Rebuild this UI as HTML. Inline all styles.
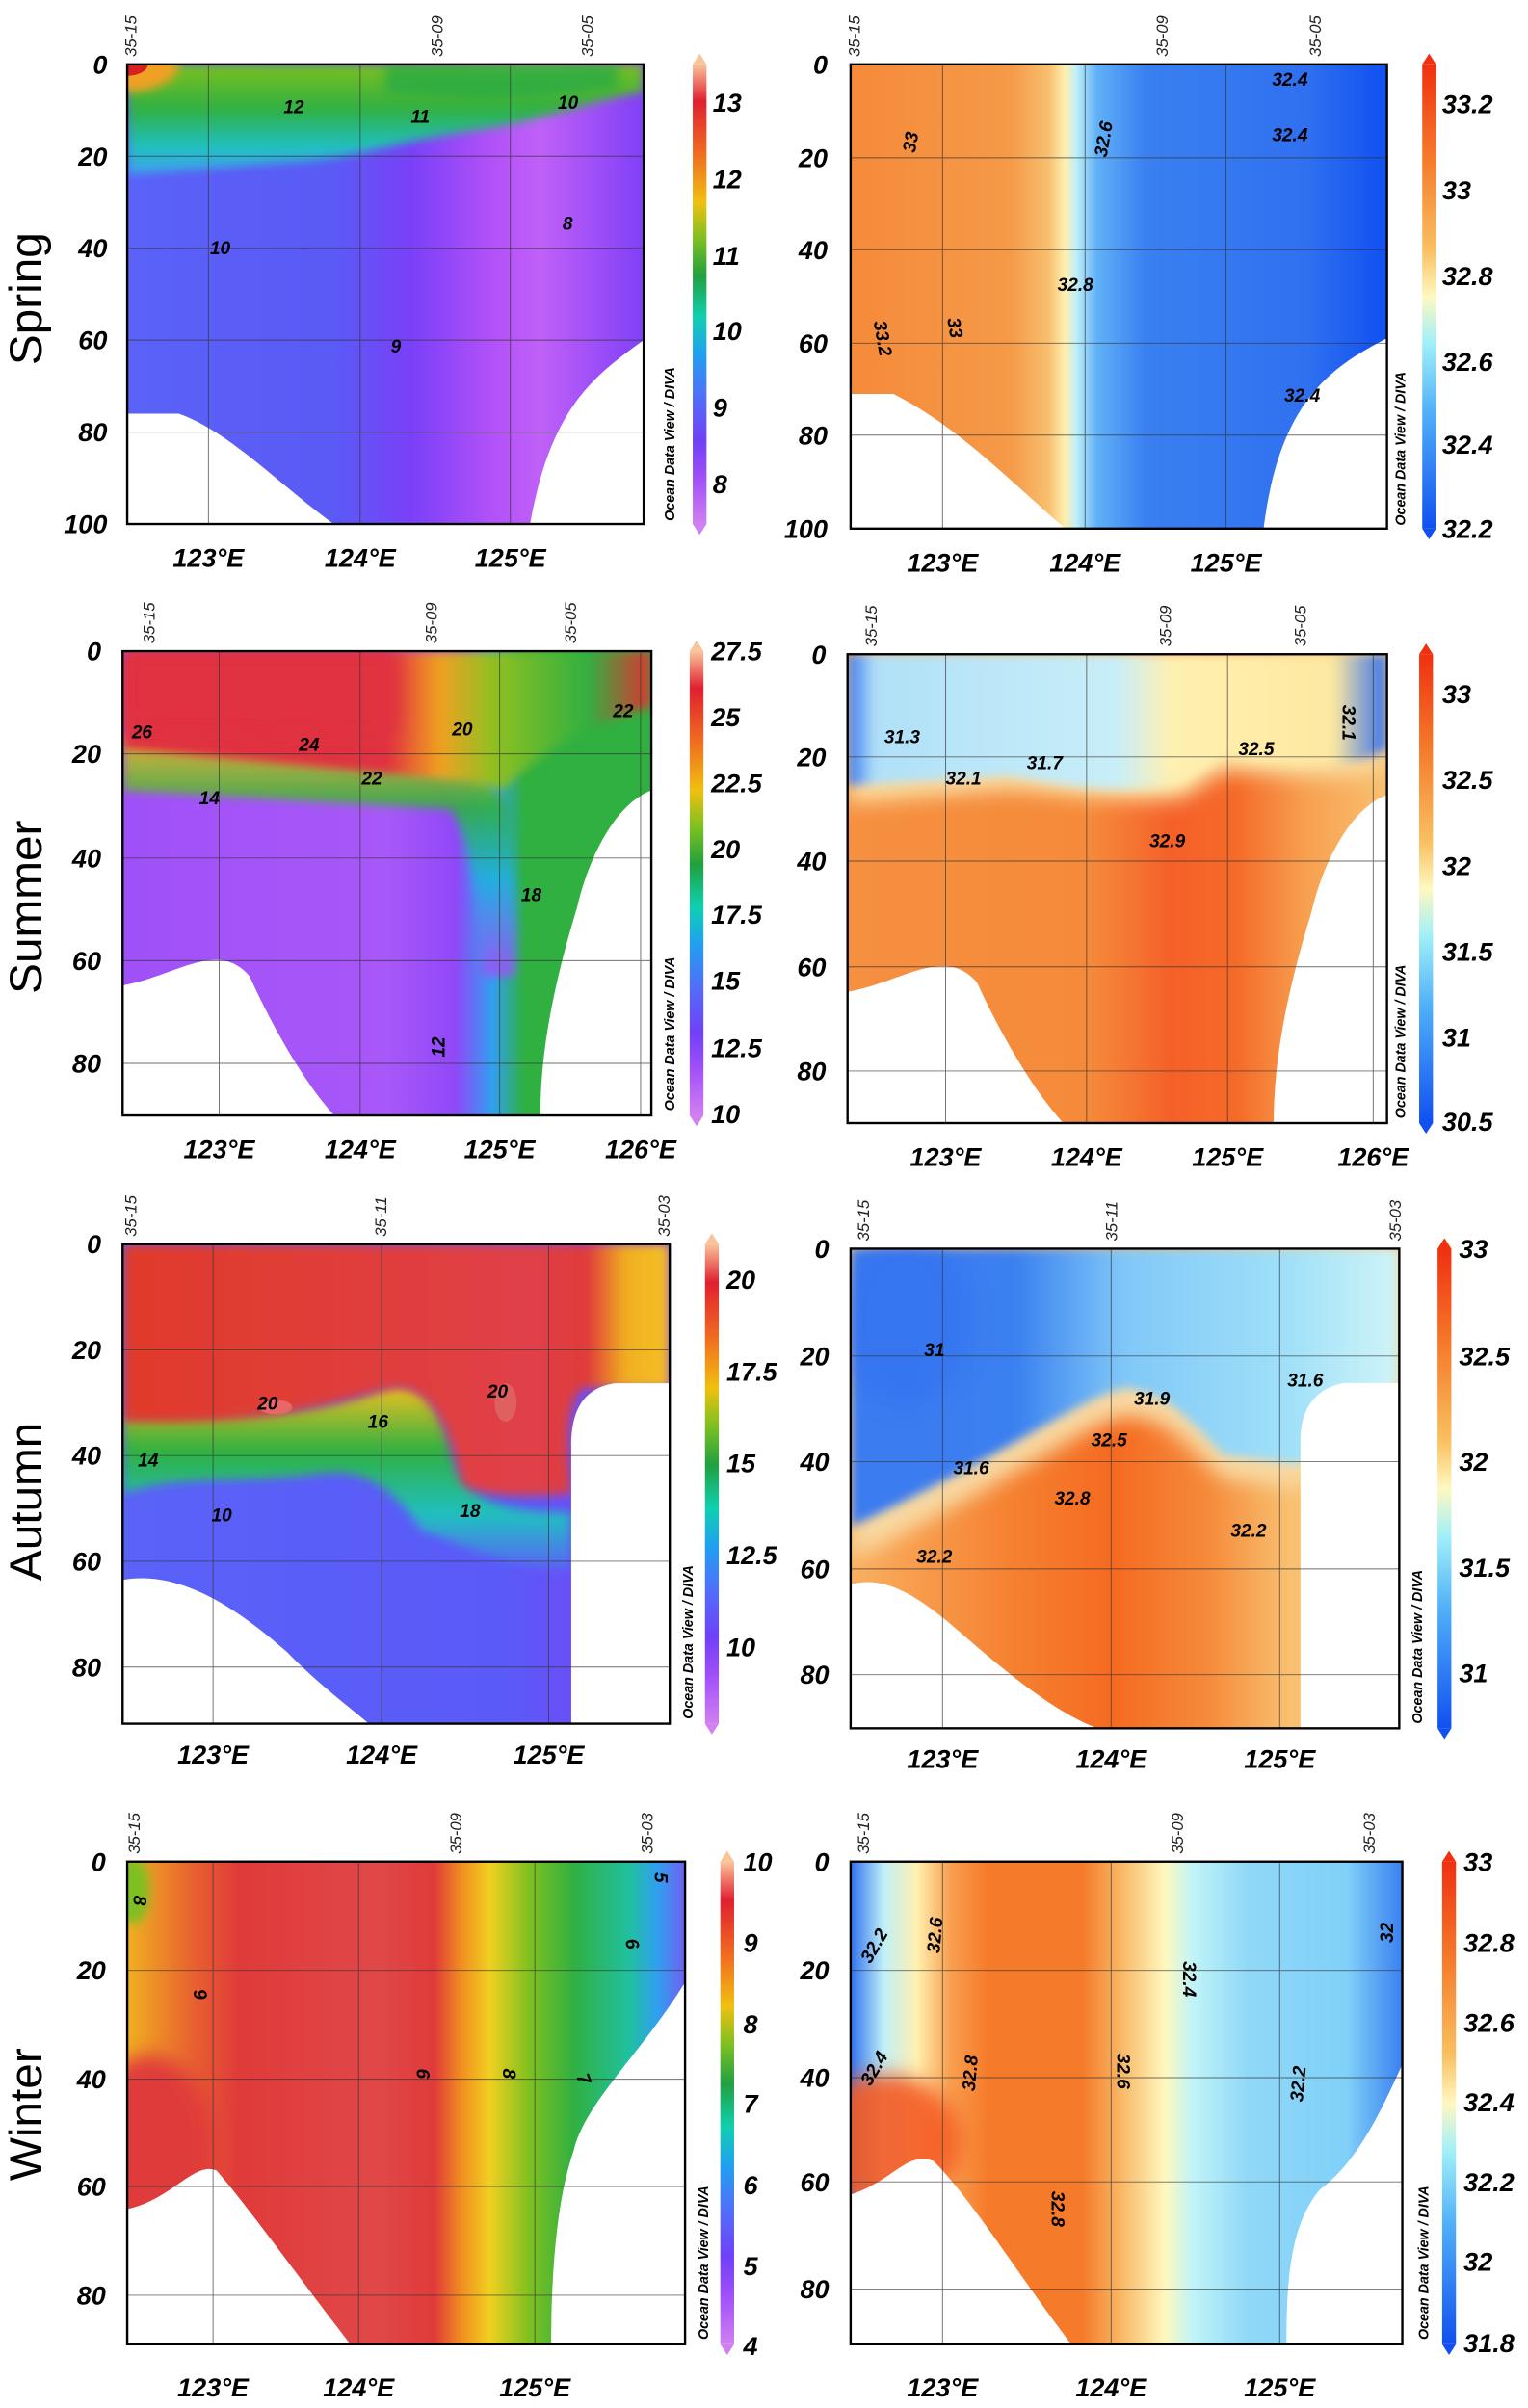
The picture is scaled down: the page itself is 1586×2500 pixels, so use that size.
<!DOCTYPE html>
<html><head><meta charset="utf-8"><style>
html,body{margin:0;padding:0;background:#fff;width:1586px;height:2500px;overflow:hidden}
svg{display:block}
.t{font-family:"Liberation Sans",sans-serif;font-weight:bold;font-style:italic;font-size:17px;fill:#000}
.s{font-family:"Liberation Sans",sans-serif;font-style:italic;font-size:10.5px;fill:#222}
.o{font-family:"Liberation Sans",sans-serif;font-weight:bold;font-style:italic;font-size:9px;fill:#000}
.z{font-family:"Liberation Sans",sans-serif;font-size:30px;fill:#000}
.c{font-family:"Liberation Sans",sans-serif;font-weight:bold;font-style:italic;font-size:12px;fill:#000}
.g{stroke:#333;stroke-width:0.6;opacity:.7}
</style></head><body>
<svg width="1586" height="2500" viewBox="0 0 997 1571.6" xmlns="http://www.w3.org/2000/svg">
<defs>
<filter id="bl" x="-20%" y="-20%" width="140%" height="140%"><feGaussianBlur stdDeviation="2"/></filter>
<filter id="bl2" x="-20%" y="-20%" width="140%" height="140%"><feGaussianBlur stdDeviation="1"/></filter>
<linearGradient id="ct" x1="0" y1="0" x2="0" y2="1">
<stop offset="0" stop-color="#f9c49a"/><stop offset=".08" stop-color="#e02030"/><stop offset=".2" stop-color="#f07020"/><stop offset=".3" stop-color="#f0c010"/><stop offset=".38" stop-color="#7cc020"/><stop offset=".46" stop-color="#20a040"/><stop offset=".55" stop-color="#10d0b0"/><stop offset=".63" stop-color="#20a0f0"/><stop offset=".72" stop-color="#5070f8"/><stop offset=".82" stop-color="#7040f8"/><stop offset=".9" stop-color="#a050f8"/><stop offset="1" stop-color="#d080f0"/></linearGradient>
<linearGradient id="cs" x1="0" y1="0" x2="0" y2="1">
<stop offset="0" stop-color="#f03010"/><stop offset=".2" stop-color="#f57a2a"/><stop offset=".4" stop-color="#f9c060"/><stop offset=".5" stop-color="#fff8c0"/><stop offset=".6" stop-color="#a0f0f8"/><stop offset=".75" stop-color="#50b0f8"/><stop offset="1" stop-color="#1050f0"/></linearGradient>
<linearGradient id="g1"><stop offset="0" stop-color="#5a62f8"/><stop offset=".4" stop-color="#5a5af5"/><stop offset=".55" stop-color="#7a40f8"/><stop offset=".7" stop-color="#b050f8"/><stop offset=".8" stop-color="#c060f8"/><stop offset=".9" stop-color="#a050f8"/><stop offset="1" stop-color="#8040f5"/></linearGradient>
<linearGradient id="g1t" x1="0" y1="0" x2="0" y2="1"><stop offset="0" stop-color="#7cc020"/><stop offset=".4" stop-color="#30b040"/><stop offset=".75" stop-color="#20c0c0"/><stop offset="1" stop-color="#40a0f0"/></linearGradient>
<linearGradient id="g2"><stop offset="0" stop-color="#f58a3a"/><stop offset=".3" stop-color="#f59a48"/><stop offset=".37" stop-color="#f8c070"/><stop offset=".4" stop-color="#fff0b0"/><stop offset=".42" stop-color="#c0f0f8"/><stop offset=".46" stop-color="#60b0f8"/><stop offset=".55" stop-color="#3a80f0"/><stop offset=".85" stop-color="#3070f0"/><stop offset="1" stop-color="#1050f0"/></linearGradient>
<linearGradient id="g3"><stop offset="0" stop-color="#a050f8"/><stop offset=".5" stop-color="#a858f8"/><stop offset=".63" stop-color="#9048f8"/><stop offset=".7" stop-color="#30a0f0"/><stop offset=".76" stop-color="#30b040"/><stop offset="1" stop-color="#30b040"/></linearGradient>
<linearGradient id="g3t"><stop offset="0" stop-color="#e03040"/><stop offset=".5" stop-color="#e03040"/><stop offset=".6" stop-color="#f0a020"/><stop offset=".7" stop-color="#90c020"/><stop offset=".88" stop-color="#30b040"/><stop offset="1" stop-color="#e03030"/></linearGradient>
<linearGradient id="g3b" x1="0" y1="0" x2="0" y2="1"><stop offset="0" stop-color="#f0c020"/><stop offset=".3" stop-color="#30b040"/><stop offset=".6" stop-color="#20b0e0"/><stop offset="1" stop-color="#a050f8"/></linearGradient>
<linearGradient id="g4"><stop offset="0" stop-color="#f59040"/><stop offset=".45" stop-color="#f58a3a"/><stop offset=".6" stop-color="#f56028"/><stop offset=".72" stop-color="#f56a28"/><stop offset=".85" stop-color="#f7a050"/><stop offset="1" stop-color="#f8c070"/></linearGradient>
<linearGradient id="g4t"><stop offset="0" stop-color="#3070f0"/><stop offset=".05" stop-color="#b0e0f8"/><stop offset=".5" stop-color="#c8eef8"/><stop offset=".6" stop-color="#fff0b0"/><stop offset=".9" stop-color="#fde8a0"/><stop offset="1" stop-color="#3070f0"/></linearGradient>
<linearGradient id="g5t"><stop offset="0" stop-color="#e03a2a"/><stop offset=".75" stop-color="#e04048"/><stop offset=".85" stop-color="#e03a3a"/><stop offset=".92" stop-color="#f0b020"/><stop offset="1" stop-color="#f5c020"/></linearGradient>
<linearGradient id="g5b" x1="0" y1="0" x2="0" y2="1"><stop offset="0" stop-color="#f0c020"/><stop offset=".35" stop-color="#30b040"/><stop offset=".7" stop-color="#20c0c0"/><stop offset="1" stop-color="#5a62f8"/></linearGradient>
<linearGradient id="g5"><stop offset="0" stop-color="#5a62f8"/><stop offset=".7" stop-color="#5a5af8"/><stop offset="1" stop-color="#8040f5"/></linearGradient>
<linearGradient id="g6t"><stop offset="0" stop-color="#3a7af0"/><stop offset=".3" stop-color="#3a80f0"/><stop offset=".5" stop-color="#80c8f8"/><stop offset=".8" stop-color="#a0e0f8"/><stop offset="1" stop-color="#d0f4f8"/></linearGradient>
<linearGradient id="g6"><stop offset="0" stop-color="#f9b060"/><stop offset=".3" stop-color="#f58030"/><stop offset=".48" stop-color="#f56a20"/><stop offset=".65" stop-color="#f58a3a"/><stop offset=".8" stop-color="#f8c070"/></linearGradient>
<linearGradient id="g7"><stop offset="0" stop-color="#f0b020"/><stop offset=".12" stop-color="#e86030"/><stop offset=".2" stop-color="#e03a3a"/><stop offset=".45" stop-color="#e04848"/><stop offset=".55" stop-color="#e03a3a"/><stop offset=".6" stop-color="#f09020"/><stop offset=".65" stop-color="#f0d020"/><stop offset=".72" stop-color="#80c020"/><stop offset=".8" stop-color="#30b040"/><stop offset=".9" stop-color="#20c0a0"/><stop offset=".95" stop-color="#30a0f0"/><stop offset="1" stop-color="#7060f0"/></linearGradient>
<linearGradient id="g8"><stop offset="0" stop-color="#3070f0"/><stop offset=".06" stop-color="#c0f0f8"/><stop offset=".12" stop-color="#fff0b0"/><stop offset=".18" stop-color="#f8a050"/><stop offset=".25" stop-color="#f57a2a"/><stop offset=".42" stop-color="#f57a2a"/><stop offset=".5" stop-color="#f8c070"/><stop offset=".57" stop-color="#fff8c0"/><stop offset=".62" stop-color="#c0f4f8"/><stop offset=".72" stop-color="#90d8f8"/><stop offset=".9" stop-color="#80d0f8"/><stop offset="1" stop-color="#3a80f0"/></linearGradient>
</defs>

<text class="z" transform="translate(27,195) rotate(-90)" text-anchor="middle">Spring</text>
<text class="z" transform="translate(27,592) rotate(-90)" text-anchor="middle">Summer</text>
<text class="z" transform="translate(27,980) rotate(-90)" text-anchor="middle">Autumn</text>
<text class="z" transform="translate(27,1380) rotate(-90)" text-anchor="middle">Winter</text>

<!-- P1 Spring T -->
<svg x="83" y="42" width="337" height="300" viewBox="0 0 100 100" preserveAspectRatio="none">
<rect width="100" height="100" fill="url(#g1)"/>
<path d="M0,0 H100 V6 C90,8 80,12 70,14 C55,16 45,20 35,21 L0,24Z" fill="url(#g1t)" filter="url(#bl2)"/>
<path d="M50,0 H95 V5 C80,7 70,8 50,6Z" fill="#20a848" opacity=".7" filter="url(#bl2)"/>
<ellipse cx="0" cy="0" rx="10" ry="6" fill="#f0a020" filter="url(#bl2)"/><ellipse cx="0" cy="0" rx="4" ry="2.5" fill="#d82020"/>
<path d="M0,76 L10,76 C20,80 30,92 40,100 L0,100Z M100,60 C90,68 82,75 78,100 L100,100Z" fill="#fff"/>
</svg>
<g class="g"><line x1="136" y1="42" x2="136" y2="342"/><line x1="235" y1="42" x2="235" y2="342"/><line x1="333" y1="42" x2="333" y2="342"/><line x1="83" y1="102" x2="420" y2="102"/><line x1="83" y1="162" x2="420" y2="162"/><line x1="83" y1="222" x2="420" y2="222"/><line x1="83" y1="282" x2="420" y2="282"/></g>
<rect x="83" y="42" width="337" height="300" fill="none" stroke="#000" stroke-width="1.5"/>
<text class="c" x="185" y="74">12</text><text class="c" x="268" y="80">11</text><text class="c" x="364" y="71">10</text><text class="c" x="137" y="166">10</text><text class="c" x="367" y="150">8</text><text class="c" x="255" y="230">9</text>
<g class="t" text-anchor="end"><text x="70" y="48">0</text><text x="70" y="108">20</text><text x="70" y="168">40</text><text x="70" y="228">60</text><text x="70" y="288">80</text><text x="70" y="348">100</text></g>
<g class="t" text-anchor="middle"><text x="136" y="370">123°E</text><text x="235" y="370">124°E</text><text x="333" y="370">125°E</text></g>
<g class="s"><text transform="translate(89,37) rotate(-90)">35-15</text><text transform="translate(289,37) rotate(-90)">35-09</text><text transform="translate(387,37) rotate(-90)">35-05</text></g>
<text class="o" transform="translate(440,340) rotate(-90)">Ocean Data View / DIVA</text>
<rect x="452" y="42" width="9" height="300" fill="url(#ct)"/><path d="M452,42 L456.5,35 L461,42Z" fill="#f9c49a"/><path d="M452,342 L456.5,349 L461,342Z" fill="#d080f0"/>
<g class="t"><text x="465" y="73">13</text><text x="465" y="123">12</text><text x="465" y="173">11</text><text x="465" y="222">10</text><text x="465" y="272">9</text><text x="465" y="322">8</text></g>

<!-- P2 Spring S -->
<svg x="555" y="42" width="350" height="303" viewBox="0 0 100 100" preserveAspectRatio="none">
<rect width="100" height="100" fill="url(#g2)"/>
<path d="M0,71 L8,71 C20,78 30,90 40,100 L0,100Z M100,59 C90,65 80,72 77,100 L100,100Z" fill="#fff"/>
</svg>
<g class="g"><line x1="615" y1="42" x2="615" y2="345"/><line x1="708" y1="42" x2="708" y2="345"/><line x1="800" y1="42" x2="800" y2="345"/><line x1="555" y1="103" x2="905" y2="103"/><line x1="555" y1="163" x2="905" y2="163"/><line x1="555" y1="224" x2="905" y2="224"/><line x1="555" y1="284" x2="905" y2="284"/></g>
<rect x="555" y="42" width="350" height="303" fill="none" stroke="#000" stroke-width="1.5"/>
<text class="c" x="830" y="56">32.4</text><text class="c" x="830" y="92">32.4</text><text class="c" x="690" y="190">32.8</text><text class="c" x="838" y="262">32.4</text><text class="c" transform="translate(597,100) rotate(-80)">33</text><text class="c" transform="translate(570,210) rotate(80)">33.2</text><text class="c" transform="translate(618,208) rotate(80)">33</text><text class="c" transform="translate(722,103) rotate(-80)">32.6</text>
<g class="t" text-anchor="end"><text x="540" y="48">0</text><text x="540" y="109">20</text><text x="540" y="169">40</text><text x="540" y="230">60</text><text x="540" y="290">80</text><text x="540" y="351">100</text></g>
<g class="t" text-anchor="middle"><text x="615" y="373">123°E</text><text x="708" y="373">124°E</text><text x="800" y="373">125°E</text></g>
<g class="s"><text transform="translate(561,37) rotate(-90)">35-15</text><text transform="translate(762,37) rotate(-90)">35-09</text><text transform="translate(862,37) rotate(-90)">35-05</text></g>
<text class="o" transform="translate(917,343) rotate(-90)">Ocean Data View / DIVA</text>
<rect x="928" y="42" width="9" height="303" fill="url(#cs)"/><path d="M928,42 L932.5,35 L937,42Z" fill="#f03010"/><path d="M928,345 L932.5,352 L937,345Z" fill="#1050f0"/>
<g class="t"><text x="941" y="74">33.2</text><text x="941" y="130">33</text><text x="941" y="186">32.8</text><text x="941" y="242">32.6</text><text x="941" y="296">32.4</text><text x="941" y="351">32.2</text></g>

<!-- P3 Summer T -->
<svg x="80" y="425" width="345" height="303" viewBox="0 0 100 100" preserveAspectRatio="none">
<rect width="100" height="100" fill="url(#g3)"/>
<path d="M0,18 L66,24 L72,32 C74,40 75,60 74,70 L68,70 C67,55 66,40 62,34 L0,30Z" fill="url(#g3b)" opacity=".9" filter="url(#bl2)"/>
<path d="M0,0 H100 V12 C90,15 80,20 72,30 L66,28 L0,21Z" fill="url(#g3t)" filter="url(#bl2)"/>
<path d="M0,0 H52 V18 L0,17Z" fill="#e03040" filter="url(#bl)"/>
<path d="M0,72 C10,70 18,62 24,70 C30,85 36,95 40,100 L0,100Z M100,30 C93,33 88,45 86,55 C82,70 79,85 79,100 L100,100Z" fill="#fff"/>
</svg>
<g class="g"><line x1="143" y1="425" x2="143" y2="728"/><line x1="235" y1="425" x2="235" y2="728"/><line x1="326" y1="425" x2="326" y2="728"/><line x1="418" y1="425" x2="418" y2="728"/><line x1="80" y1="492" x2="425" y2="492"/><line x1="80" y1="560" x2="425" y2="560"/><line x1="80" y1="627" x2="425" y2="627"/><line x1="80" y1="694" x2="425" y2="694"/></g>
<rect x="80" y="425" width="345" height="303" fill="none" stroke="#000" stroke-width="1.5"/>
<text class="c" x="86" y="482">26</text><text class="c" x="195" y="490">24</text><text class="c" x="236" y="512">22</text><text class="c" x="130" y="525">14</text><text class="c" x="295" y="480">20</text><text class="c" x="340" y="588">18</text><text class="c" x="400" y="468">22</text><text class="c" transform="translate(290,690) rotate(-90)">12</text>
<g class="t" text-anchor="end"><text x="66" y="431">0</text><text x="66" y="498">20</text><text x="66" y="566">40</text><text x="66" y="633">60</text><text x="66" y="700">80</text></g>
<g class="t" text-anchor="middle"><text x="143" y="756">123°E</text><text x="235" y="756">124°E</text><text x="326" y="756">125°E</text><text x="418" y="756">126°E</text></g>
<g class="s"><text transform="translate(101,420) rotate(-90)">35-15</text><text transform="translate(285,420) rotate(-90)">35-09</text><text transform="translate(376,420) rotate(-90)">35-05</text></g>
<text class="o" transform="translate(440,725) rotate(-90)">Ocean Data View / DIVA</text>
<rect x="450" y="425" width="9" height="303" fill="url(#ct)"/><path d="M450,425 L454.5,418 L459,425Z" fill="#f9c49a"/><path d="M450,728 L454.5,735 L459,728Z" fill="#d080f0"/>
<g class="t"><text x="464" y="431">27.5</text><text x="464" y="474">25</text><text x="464" y="517">22.5</text><text x="464" y="560">20</text><text x="464" y="603">17.5</text><text x="464" y="646">15</text><text x="464" y="690">12.5</text><text x="464" y="733">10</text></g>

<!-- P4 Summer S -->
<svg x="553" y="427" width="352" height="306" viewBox="0 0 100 100" preserveAspectRatio="none">
<rect width="100" height="100" fill="url(#g4)"/>
<path d="M0,0 H100 V24 C95,28 80,26 70,25 L62,31 C50,32 40,30 30,29 L0,32Z" fill="#fbd89a" filter="url(#bl)"/>
<path d="M0,0 H100 V20 C95,25 80,24 70,22 L62,28 C50,30 40,28 30,26 L0,28Z" fill="url(#g4t)" filter="url(#bl2)"/>
<path d="M0,72 C10,70 18,62 24,70 C30,85 36,95 40,100 L0,100Z M100,30 C93,33 88,45 86,55 C82,70 79,85 79,100 L100,100Z" fill="#fff"/>
</svg>
<g class="g"><line x1="617" y1="427" x2="617" y2="733"/><line x1="709" y1="427" x2="709" y2="733"/><line x1="801" y1="427" x2="801" y2="733"/><line x1="896" y1="427" x2="896" y2="733"/><line x1="553" y1="494" x2="905" y2="494"/><line x1="553" y1="562" x2="905" y2="562"/><line x1="553" y1="631" x2="905" y2="631"/><line x1="553" y1="699" x2="905" y2="699"/></g>
<rect x="553" y="427" width="352" height="306" fill="none" stroke="#000" stroke-width="1.5"/>
<text class="c" x="577" y="485">31.3</text><text class="c" x="670" y="502">31.7</text><text class="c" x="617" y="512">32.1</text><text class="c" x="808" y="493">32.5</text><text class="c" x="750" y="553">32.9</text><text class="c" transform="translate(876,460) rotate(90)">32.1</text>
<g class="t" text-anchor="end"><text x="539" y="433">0</text><text x="539" y="500">20</text><text x="539" y="568">40</text><text x="539" y="637">60</text><text x="539" y="705">80</text></g>
<g class="t" text-anchor="middle"><text x="617" y="761">123°E</text><text x="709" y="761">124°E</text><text x="801" y="761">125°E</text><text x="896" y="761">126°E</text></g>
<g class="s"><text transform="translate(572,422) rotate(-90)">35-15</text><text transform="translate(764,422) rotate(-90)">35-09</text><text transform="translate(852,422) rotate(-90)">35-05</text></g>
<text class="o" transform="translate(917,730) rotate(-90)">Ocean Data View / DIVA</text>
<rect x="926" y="427" width="9" height="306" fill="url(#cs)"/><path d="M926,427 L930.5,420 L935,427Z" fill="#f03010"/><path d="M926,733 L930.5,740 L935,733Z" fill="#1050f0"/>
<g class="t"><text x="941" y="459">33</text><text x="941" y="515">32.5</text><text x="941" y="571">32</text><text x="941" y="627">31.5</text><text x="941" y="683">31</text><text x="941" y="738">30.5</text></g>

<!-- P5 Autumn T -->
<svg x="80" y="812" width="357" height="313" viewBox="0 0 100 100" preserveAspectRatio="none">
<rect width="100" height="100" fill="url(#g5)"/>
<path d="M0,36 C15,34 30,38 48,30 C55,28 58,34 60,43 C62,54 70,56 82,56 V68 C70,68 62,62 55,60 C50,52 45,46 35,48 C20,50 10,48 0,52Z" fill="url(#g5b)" filter="url(#bl2)"/>
<path d="M0,0 H100 V30 L84,30 C80,35 82,48 82,52 C70,53 64,52 62,50 C60,40 57,30 50,30 C40,32 30,38 0,37Z" fill="url(#g5t)" filter="url(#bl2)"/>
<ellipse cx="28" cy="34" rx="3" ry="1.5" fill="#e86868"/><ellipse cx="70" cy="33" rx="2" ry="4" fill="#e06060"/>
<path d="M0,70 C10,68 20,75 30,85 C36,92 42,97 45,100 L0,100Z M82,100 V42 C82,35 84,30 90,29 H100 V100Z" fill="#fff"/>
</svg>
<g class="g"><line x1="139" y1="812" x2="139" y2="1125"/><line x1="249" y1="812" x2="249" y2="1125"/><line x1="358" y1="812" x2="358" y2="1125"/><line x1="80" y1="881" x2="437" y2="881"/><line x1="80" y1="950" x2="437" y2="950"/><line x1="80" y1="1019" x2="437" y2="1019"/><line x1="80" y1="1088" x2="437" y2="1088"/></g>
<rect x="80" y="812" width="357" height="313" fill="none" stroke="#000" stroke-width="1.5"/>
<text class="c" x="168" y="920">20</text><text class="c" x="240" y="932">16</text><text class="c" x="318" y="912">20</text><text class="c" x="90" y="957">14</text><text class="c" x="300" y="990">18</text><text class="c" x="138" y="993">10</text>
<g class="t" text-anchor="end"><text x="66" y="818">0</text><text x="66" y="887">20</text><text x="66" y="956">40</text><text x="66" y="1025">60</text><text x="66" y="1094">80</text></g>
<g class="t" text-anchor="middle"><text x="139" y="1151">123°E</text><text x="249" y="1151">124°E</text><text x="358" y="1151">125°E</text></g>
<g class="s"><text transform="translate(89,807) rotate(-90)">35-15</text><text transform="translate(252,807) rotate(-90)">35-11</text><text transform="translate(437,807) rotate(-90)">35-03</text></g>
<text class="o" transform="translate(452,1122) rotate(-90)">Ocean Data View / DIVA</text>
<rect x="460" y="812" width="9" height="313" fill="url(#ct)"/><path d="M460,812 L464.5,805 L469,812Z" fill="#f9c49a"/><path d="M460,1125 L464.5,1132 L469,1125Z" fill="#d080f0"/>
<g class="t"><text x="474" y="841">20</text><text x="474" y="901">17.5</text><text x="474" y="961">15</text><text x="474" y="1021">12.5</text><text x="474" y="1081">10</text></g>

<!-- P6 Autumn S -->
<svg x="555" y="815" width="358" height="313" viewBox="0 0 100 100" preserveAspectRatio="none">
<rect width="100" height="100" fill="url(#g6)"/>
<path d="M0,0 H100 V32 L82,50 L68,48 C62,42 58,35 50,35 C42,37 30,48 0,65Z" fill="#f8d8a0" filter="url(#bl)"/>
<path d="M0,0 H100 V28 L82,45 L68,43 C62,36 58,30 50,29 C42,31 30,42 0,58Z" fill="url(#g6t)" filter="url(#bl2)"/>
<ellipse cx="10" cy="15" rx="12" ry="18" fill="#3070f0" opacity=".5" filter="url(#bl)"/>
<path d="M0,70 C6,68 12,72 20,80 C30,90 38,97 45,100 L0,100Z M82,100 V40 C82,33 85,29 90,28 H100 V100Z" fill="#fff"/>
</svg>
<g class="g"><line x1="615" y1="815" x2="615" y2="1128"/><line x1="725" y1="815" x2="725" y2="1128"/><line x1="835" y1="815" x2="835" y2="1128"/><line x1="555" y1="885" x2="913" y2="885"/><line x1="555" y1="954" x2="913" y2="954"/><line x1="555" y1="1024" x2="913" y2="1024"/><line x1="555" y1="1093" x2="913" y2="1093"/></g>
<rect x="555" y="815" width="358" height="313" fill="none" stroke="#000" stroke-width="1.5"/>
<text class="c" x="603" y="885">31</text><text class="c" x="740" y="917">31.9</text><text class="c" x="840" y="905">31.6</text><text class="c" x="622" y="962">31.6</text><text class="c" x="712" y="944">32.5</text><text class="c" x="688" y="982">32.8</text><text class="c" x="803" y="1003">32.2</text><text class="c" x="598" y="1020">32.2</text>
<g class="t" text-anchor="end"><text x="541" y="821">0</text><text x="541" y="891">20</text><text x="541" y="960">40</text><text x="541" y="1030">60</text><text x="541" y="1099">80</text></g>
<g class="t" text-anchor="middle"><text x="615" y="1154">123°E</text><text x="725" y="1154">124°E</text><text x="835" y="1154">125°E</text></g>
<g class="s"><text transform="translate(567,810) rotate(-90)">35-15</text><text transform="translate(729,810) rotate(-90)">35-11</text><text transform="translate(914,810) rotate(-90)">35-03</text></g>
<text class="o" transform="translate(928,1125) rotate(-90)">Ocean Data View / DIVA</text>
<rect x="938" y="815" width="9" height="313" fill="url(#cs)"/><path d="M938,815 L942.5,808 L947,815Z" fill="#f03010"/><path d="M938,1128 L942.5,1135 L947,1128Z" fill="#1050f0"/>
<g class="t"><text x="952" y="821">33</text><text x="952" y="891">32.5</text><text x="952" y="960">32</text><text x="952" y="1029">31.5</text><text x="952" y="1098">31</text></g>

<!-- P7 Winter T -->
<svg x="83" y="1215" width="364" height="315" viewBox="0 0 100 100" preserveAspectRatio="none">
<rect width="100" height="100" fill="url(#g7)"/>
<ellipse cx="1" cy="6" rx="3" ry="7" fill="#7cc020" filter="url(#bl2)"/>
<ellipse cx="4" cy="60" rx="12" ry="20" fill="#e03a3a" filter="url(#bl)"/>
<path d="M0,72 C8,70 12,62 16,64 C22,72 30,85 40,100 L0,100Z M100,25 C92,40 82,50 80,60 C77,70 76,85 76,100 L100,100Z" fill="#fff"/>
</svg>
<g class="g"><line x1="139" y1="1215" x2="139" y2="1530"/><line x1="234" y1="1215" x2="234" y2="1530"/><line x1="349" y1="1215" x2="349" y2="1530"/><line x1="83" y1="1286" x2="447" y2="1286"/><line x1="83" y1="1357" x2="447" y2="1357"/><line x1="83" y1="1427" x2="447" y2="1427"/><line x1="83" y1="1498" x2="447" y2="1498"/></g>
<rect x="83" y="1215" width="364" height="315" fill="none" stroke="#000" stroke-width="1.5"/>
<text class="c" transform="translate(87,1237) rotate(90)">8</text><text class="c" transform="translate(126,1299) rotate(80)">9</text><text class="c" transform="translate(272,1350) rotate(90)">6</text><text class="c" transform="translate(328,1350) rotate(90)">8</text><text class="c" transform="translate(376,1355) rotate(70)">7</text><text class="c" transform="translate(408,1266) rotate(80)">6</text><text class="c" transform="translate(427,1222) rotate(90)">5</text>
<g class="t" text-anchor="end"><text x="69" y="1221">0</text><text x="69" y="1292">20</text><text x="69" y="1363">40</text><text x="69" y="1433">60</text><text x="69" y="1504">80</text></g>
<g class="t" text-anchor="middle"><text x="139" y="1564">123°E</text><text x="234" y="1564">124°E</text><text x="349" y="1564">125°E</text></g>
<g class="s"><text transform="translate(91,1210) rotate(-90)">35-15</text><text transform="translate(301,1210) rotate(-90)">35-09</text><text transform="translate(426,1210) rotate(-90)">35-03</text></g>
<text class="o" transform="translate(462,1527) rotate(-90)">Ocean Data View / DIVA</text>
<rect x="470" y="1215" width="9" height="315" fill="url(#ct)"/><path d="M470,1215 L474.5,1208 L479,1215Z" fill="#f9c49a"/><path d="M470,1530 L474.5,1537 L479,1530Z" fill="#d080f0"/>
<g class="t"><text x="485" y="1221">10</text><text x="485" y="1274">9</text><text x="485" y="1327">8</text><text x="485" y="1379">7</text><text x="485" y="1432">6</text><text x="485" y="1485">5</text><text x="485" y="1537">4</text></g>

<!-- P8 Winter S -->
<svg x="555" y="1215" width="360" height="315" viewBox="0 0 100 100" preserveAspectRatio="none">
<rect width="100" height="100" fill="url(#g8)"/>
<ellipse cx="6" cy="58" rx="14" ry="14" fill="#f55a20" opacity=".9" filter="url(#bl)"/>
<path d="M0,69 C8,66 10,60 15,62 C22,70 30,85 40,100 L0,100Z M100,42 C96,52 92,62 85,68 C80,75 79,85 79,100 L100,100Z" fill="#fff"/>
</svg>
<g class="g"><line x1="615" y1="1215" x2="615" y2="1530"/><line x1="725" y1="1215" x2="725" y2="1530"/><line x1="835" y1="1215" x2="835" y2="1530"/><line x1="555" y1="1286" x2="915" y2="1286"/><line x1="555" y1="1356" x2="915" y2="1356"/><line x1="555" y1="1424" x2="915" y2="1424"/><line x1="555" y1="1494" x2="915" y2="1494"/></g>
<rect x="555" y="1215" width="360" height="315" fill="none" stroke="#000" stroke-width="1.5"/>
<text class="c" transform="translate(568,1282) rotate(-60)">32.2</text><text class="c" transform="translate(613,1275) rotate(-85)">32.6</text><text class="c" transform="translate(636,1365) rotate(-85)">32.8</text><text class="c" transform="translate(568,1362) rotate(-60)">32.4</text><text class="c" transform="translate(772,1280) rotate(90)">32.4</text><text class="c" transform="translate(729,1340) rotate(90)">32.6</text><text class="c" transform="translate(686,1430) rotate(90)">32.8</text><text class="c" transform="translate(850,1372) rotate(-85)">32.2</text><text class="c" transform="translate(909,1268) rotate(-90)">32</text>
<g class="t" text-anchor="end"><text x="541" y="1221">0</text><text x="541" y="1292">20</text><text x="541" y="1362">40</text><text x="541" y="1430">60</text><text x="541" y="1500">80</text></g>
<g class="t" text-anchor="middle"><text x="615" y="1564">123°E</text><text x="725" y="1564">124°E</text><text x="835" y="1564">125°E</text></g>
<g class="s"><text transform="translate(567,1210) rotate(-90)">35-15</text><text transform="translate(772,1210) rotate(-90)">35-09</text><text transform="translate(897,1210) rotate(-90)">35-03</text></g>
<text class="o" transform="translate(932,1527) rotate(-90)">Ocean Data View / DIVA</text>
<rect x="941" y="1215" width="9" height="315" fill="url(#cs)"/><path d="M941,1215 L945.5,1208 L950,1215Z" fill="#f03010"/><path d="M941,1530 L945.5,1537 L950,1530Z" fill="#1050f0"/>
<g class="t"><text x="955" y="1221">33</text><text x="955" y="1274">32.8</text><text x="955" y="1326">32.6</text><text x="955" y="1378">32.4</text><text x="955" y="1430">32.2</text><text x="955" y="1482">32</text><text x="955" y="1535">31.8</text></g>
</svg>
</body></html>
